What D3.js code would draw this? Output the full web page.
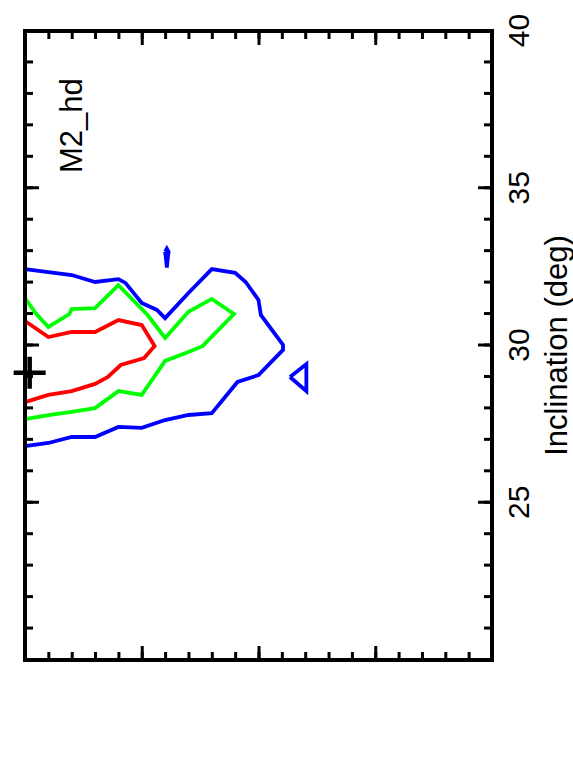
<!DOCTYPE html>
<html>
<head>
<meta charset="utf-8">
<script src="https://cdn.jsdelivr.net/npm/d3@7"></script>
<style>
  body { margin: 0; background: #fff; }
  svg { display: block; }
  text { font-family: "Liberation Sans", Arial, Helvetica, sans-serif; }
</style>
</head>
<body>
<script>
//contour levels, each point is [inclination (deg), y value]
var blueOuter = [
    [32.43, 4.0], [32.24, 3.6], [32.02, 3.4], [32.11, 3.2], [31.99, 3.14],
    [31.35, 3.0], [31.13, 2.87], [30.87, 2.8], [31.67, 2.6], [32.43, 2.4],
    [32.31, 2.2], [32.02, 2.11], [31.45, 2.0], [30.97, 1.98], [30.02, 1.79],
    [29.86, 1.79], [29.06, 2.0], [28.84, 2.18], [27.85, 2.4], [27.79, 2.6],
    [27.63, 2.8], [27.38, 3.0], [27.41, 3.2], [27.09, 3.4], [27.09, 3.6],
    [26.90, 3.8], [26.80, 4.0]
];
var blueIsland = [
    [32.98, 2.800], [33.08, 2.785], [32.98, 2.770], [32.75, 2.778], [32.48, 2.785],
    [32.75, 2.792], [32.98, 2.800]
];
var blueTriangle = [
    [29.0, 1.73], [29.41, 1.59], [28.55, 1.59], [29.0, 1.73]
];
var greenLevel = [
    [31.51, 4.0], [31.03, 3.91], [30.59, 3.8], [31.0, 3.62], [31.16, 3.6],
    [31.19, 3.4], [31.92, 3.2], [30.97, 2.95], [30.24, 2.8], [31.07, 2.6],
    [31.48, 2.4], [31.0, 2.21], [29.98, 2.48], [29.79, 2.6], [29.51, 2.8],
    [28.43, 3.0], [28.55, 3.2], [28.01, 3.4], [27.89, 3.6], [27.79, 3.8],
    [27.66, 4.0]
];
var redLevel = [
    [30.78, 4.0], [30.27, 3.8], [30.43, 3.6], [30.43, 3.4], [30.81, 3.2],
    [30.65, 3.0], [29.98, 2.89], [29.60, 2.98], [29.38, 3.18], [29.0, 3.29],
    [28.78, 3.4], [28.55, 3.6], [28.43, 3.8], [28.20, 4.0]
];
//best fit marker
var bestFit = [29.13, 3.96];

//tick values
var inclTicks = d3.range(20, 41, 1);
var inclLabels = [25, 30, 35, 40];
var valTicks = d3.range(0, 4.001, 0.2);
var valMajor = [1, 2, 3];

var width = 573,
    height = 757;
//plot frame, drawn unrotated then turned -90deg
var W = 629,
    H = 467;

var svg = d3.select("body")
    .append("svg")
    .attr("width", width)
    .attr("height", height);

var g = svg.append("g")
    .attr("transform", "translate(25,660) rotate(-90)");

var x = d3.scaleLinear().domain([20, 40]).range([0, W]);
var y = d3.scaleLinear().domain([0, 4]).range([H, 0]);

function styleAxis(sel){
    sel.select(".domain").remove();
    sel.selectAll("line")
        .attr("stroke", "#000")
        .attr("stroke-width", 3);
}

//minor ticks on all four sides
g.append("g").attr("transform", "translate(0," + H + ")")
    .call(d3.axisBottom(x).tickValues(inclTicks).tickSize(-8).tickFormat(""))
    .call(styleAxis);
g.append("g")
    .call(d3.axisTop(x).tickValues(inclTicks).tickSize(-8).tickFormat(""))
    .call(styleAxis);
g.append("g")
    .call(d3.axisLeft(y).tickValues(valTicks).tickSize(-8).tickFormat(""))
    .call(styleAxis);
g.append("g").attr("transform", "translate(" + W + ",0)")
    .call(d3.axisRight(y).tickValues(valTicks).tickSize(-8).tickFormat(""))
    .call(styleAxis);

//major ticks
var bottomAxis = g.append("g").attr("transform", "translate(0," + H + ")")
    .call(d3.axisBottom(x).tickValues(inclLabels).tickSize(-14).tickPadding(16).tickFormat(d3.format("d")))
    .call(styleAxis);
bottomAxis.selectAll("text")
    .attr("fill", "#000")
    .style("font-size", "30px")
    .style("font-family", "'Liberation Sans', Arial, sans-serif");
g.append("g")
    .call(d3.axisTop(x).tickValues(inclLabels).tickSize(-14).tickFormat(""))
    .call(styleAxis);
g.append("g")
    .call(d3.axisLeft(y).tickValues(valMajor).tickSize(-14).tickFormat(""))
    .call(styleAxis);
g.append("g").attr("transform", "translate(" + W + ",0)")
    .call(d3.axisRight(y).tickValues(valMajor).tickSize(-14).tickFormat(""))
    .call(styleAxis);

//contours
var line = d3.line()
    .x(function(d){ return x(d[0]); })
    .y(function(d){ return y(d[1]); });

var contours = [
    {pts: blueOuter, color: "#0000ff"},
    {pts: blueIsland, color: "#0000ff"},
    {pts: blueTriangle, color: "#0000ff"},
    {pts: greenLevel, color: "#00ff00"},
    {pts: redLevel, color: "#ff0000"}
];

g.selectAll(".contour")
    .data(contours)
    .enter()
    .append("path")
    .attr("class", "contour")
    .attr("d", function(d){ return line(d.pts); })
    .attr("fill", "none")
    .attr("stroke", function(d){ return d.color; })
    .attr("stroke-width", 3.8)
    .attr("stroke-linejoin", "miter");

//plus marker
var px = x(bestFit[0]), py = y(bestFit[1]);
g.append("path")
    .attr("d", "M" + (px - 16) + "," + py + "H" + (px + 16) + "M" + px + "," + (py - 16) + "V" + (py + 16))
    .attr("stroke", "#000")
    .attr("stroke-width", 4.5)
    .attr("fill", "none");

//frame
g.append("rect")
    .attr("width", W)
    .attr("height", H)
    .attr("fill", "none")
    .attr("stroke", "#000")
    .attr("stroke-width", 4);

//labels
g.append("text")
    .attr("x", W / 2)
    .attr("y", H + 75)
    .attr("text-anchor", "middle")
    .style("font-size", "31px")
    .text("Inclination (deg)");

g.append("text")
    .attr("x", 487)
    .attr("y", 57)
    .style("font-size", "31px")
    .text("M2_hd");
</script>
</body>
</html>
